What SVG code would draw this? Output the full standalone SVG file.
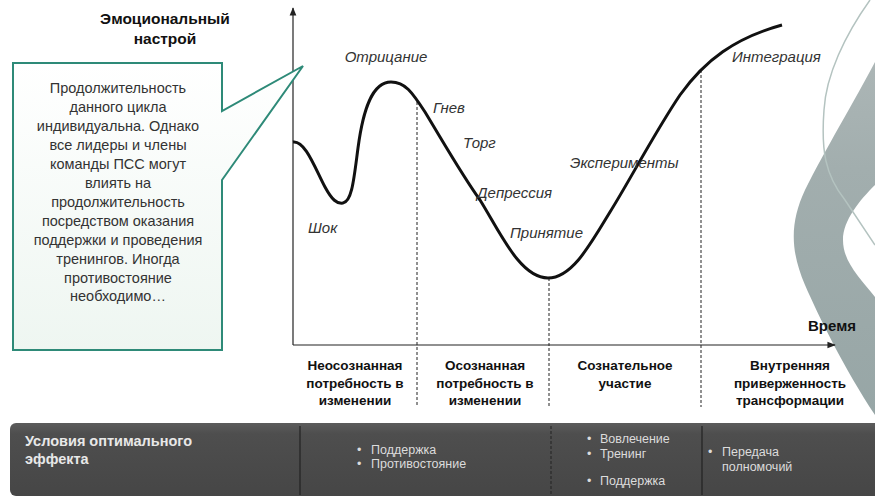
<svg xmlns="http://www.w3.org/2000/svg" width="875" height="503" viewBox="0 0 875 503">
<style>
.t{font-family:"Liberation Sans",Arial,sans-serif;fill:#222}
.b{font-weight:bold;font-size:13.5px;text-anchor:middle;fill:#111}
.i{font-style:italic;font-size:15px;fill:#333}
.c{font-size:14.5px;text-anchor:middle;fill:#333}
.w{font-size:12.5px;fill:#dcdcdc}
.dash{stroke:#222;stroke-width:1;stroke-dasharray:3 2;fill:none}
</style>
<defs>
<marker id="arr" viewBox="0 0 10 10" refX="9" refY="5" markerWidth="7" markerHeight="7" orient="auto"><path d="M0,1 L10,5 L0,9 z" fill="#222"/></marker>
<linearGradient id="box" x1="0" y1="0" x2="0" y2="1"><stop offset="0" stop-color="#ffffff"/><stop offset="1" stop-color="#eef6f1"/></linearGradient>
<linearGradient id="band" x1="0" y1="0" x2="0" y2="1"><stop offset="0" stop-color="#5c5c5c"/><stop offset="0.15" stop-color="#4e4e4e"/><stop offset="1" stop-color="#464646"/></linearGradient>
<linearGradient id="sw" x1="0" y1="0" x2="0" y2="1"><stop offset="0" stop-color="#acb6b6"/><stop offset="0.3" stop-color="#a2aeae"/><stop offset="1" stop-color="#97a6a6"/></linearGradient>
</defs>
<rect width="875" height="503" fill="#ffffff"/>
<!-- decoration -->
<g id="decoration">
<path d="M875,62 C855,100 825,150 805,190 C790,222 790,250 805,285 C818,315 845,370 875,415 L875,297 C860,278 843,262 843,240 C843,220 860,200 875,185 Z" fill="url(#sw)"/>
<path d="M870,0 C845,35 826,75 824,110 C821,150 825,175 845,200 C855,215 865,230 875,245" fill="none" stroke="#b4c3c0" stroke-width="1.5"/>
</g>
<!-- bottom band -->
<g id="band-conditions">
<rect x="10" y="423" width="875" height="73" rx="6" fill="url(#band)"/>
<line x1="300" y1="426" x2="300" y2="495" stroke="#222" stroke-width="1.2"/>
<line x1="551" y1="426" x2="551" y2="495" stroke="#222" stroke-width="1" stroke-dasharray="3 2"/>
<line x1="702" y1="426" x2="702" y2="495" stroke="#222" stroke-width="1.2"/>
<text class="t" x="25" y="446" style="font-size:14.5px;font-weight:bold;fill:#e8e8e8">Условия оптимального</text>
<text class="t" x="25" y="464" style="font-size:14.5px;font-weight:bold;fill:#e8e8e8">эффекта</text>
<text class="t w" x="357" y="454">•</text><text class="t w" x="371" y="454">Поддержка</text>
<text class="t w" x="357" y="468">•</text><text class="t w" x="371" y="468">Противостояние</text>
<text class="t w" x="587" y="443">•</text><text class="t w" x="600" y="443">Вовлечение</text>
<text class="t w" x="587" y="458">•</text><text class="t w" x="600" y="458">Тренинг</text>
<text class="t w" x="587" y="485">•</text><text class="t w" x="600" y="485">Поддержка</text>
<text class="t w" x="708" y="456">•</text><text class="t w" x="722" y="456">Передача</text>
<text class="t w" x="722" y="471">полномочий</text>
</g>
<!-- axes and connectors -->
<g id="connectors">
<line x1="293" y1="345" x2="293" y2="8" stroke="#222" stroke-width="1.2" marker-end="url(#arr)"/>
<line x1="293" y1="345" x2="835" y2="345" stroke="#222" stroke-width="1.2" marker-end="url(#arr)"/>
<line class="dash" x1="417" y1="102" x2="417" y2="407"/>
<line class="dash" x1="549" y1="278" x2="549" y2="407"/>
<line class="dash" x1="701" y1="70" x2="701" y2="407"/>
<path id="curve" d="M293,142 C305,140 315,168 325,187 C332,200 337,204 343,203 C352,202 354,178 358,148 C363,110 372,82 391,82 C405,82 412,92 425,112 C445,145 462,175 480,200 C500,232 520,278 548,278 C572,278 590,245 610,212 C630,180 655,132 680,95 C705,60 735,38 782,25" fill="none" stroke="#111" stroke-width="3"/>
</g>
<!-- title -->
<g id="axis-y-label">
<text class="t b" x="165" y="24" style="font-size:15.5px">Эмоциональный</text>
<text class="t b" x="165" y="44" style="font-size:15.5px">настрой</text>
</g>
<g id="axis-x-label"><text class="t" x="808" y="331" style="font-size:15px;font-weight:bold;fill:#111">Время</text></g>
<!-- callout -->
<g id="callout">
<path d="M13,63 L222,63 L222,111 L303,66 L222,180 L222,350 L13,350 Z" fill="url(#box)" stroke="#2e8a78" stroke-width="2" stroke-linejoin="miter"/>
<text class="t c" x="118" y="93">Продолжительность</text>
<text class="t c" x="118" y="112">данного цикла</text>
<text class="t c" x="118" y="131">индивидуальна. Однако</text>
<text class="t c" x="118" y="150">все лидеры и члены</text>
<text class="t c" x="118" y="169">команды ПСС могут</text>
<text class="t c" x="118" y="188">влиять на</text>
<text class="t c" x="118" y="207">продолжительность</text>
<text class="t c" x="118" y="226">посредством оказания</text>
<text class="t c" x="118" y="245">поддержки и проведения</text>
<text class="t c" x="118" y="264">тренингов. Иногда</text>
<text class="t c" x="118" y="283">противостояние</text>
<text class="t c" x="118" y="301">необходимо…</text>
</g>
<!-- stage labels -->
<g id="stage-shock"><text class="t i" x="308" y="233">Шок</text></g>
<g id="stage-denial"><text class="t i" x="386" y="62" text-anchor="middle">Отрицание</text></g>
<g id="stage-anger"><text class="t i" x="433" y="113">Гнев</text></g>
<g id="stage-bargain"><text class="t i" x="463" y="148">Торг</text></g>
<g id="stage-depression"><text class="t i" x="477" y="198">Депрессия</text></g>
<g id="stage-acceptance"><text class="t i" x="510" y="238">Принятие</text></g>
<g id="stage-experiments"><text class="t i" x="570" y="168">Эксперименты</text></g>
<g id="stage-integration"><text class="t i" x="732" y="62">Интеграция</text></g>
<!-- column labels -->
<g id="phase-1">
<text class="t b" x="355" y="370">Неосознанная</text>
<text class="t b" x="355" y="388">потребность в</text>
<text class="t b" x="355" y="405">изменении</text>
</g>
<g id="phase-2">
<text class="t b" x="485" y="370">Осознанная</text>
<text class="t b" x="485" y="388">потребность в</text>
<text class="t b" x="485" y="405">изменении</text>
</g>
<g id="phase-3">
<text class="t b" x="625" y="370">Сознательное</text>
<text class="t b" x="625" y="388">участие</text>
</g>
<g id="phase-4">
<text class="t b" x="790" y="370">Внутренняя</text>
<text class="t b" x="790" y="388">приверженность</text>
<text class="t b" x="790" y="405">трансформации</text>
</g>
</svg>
